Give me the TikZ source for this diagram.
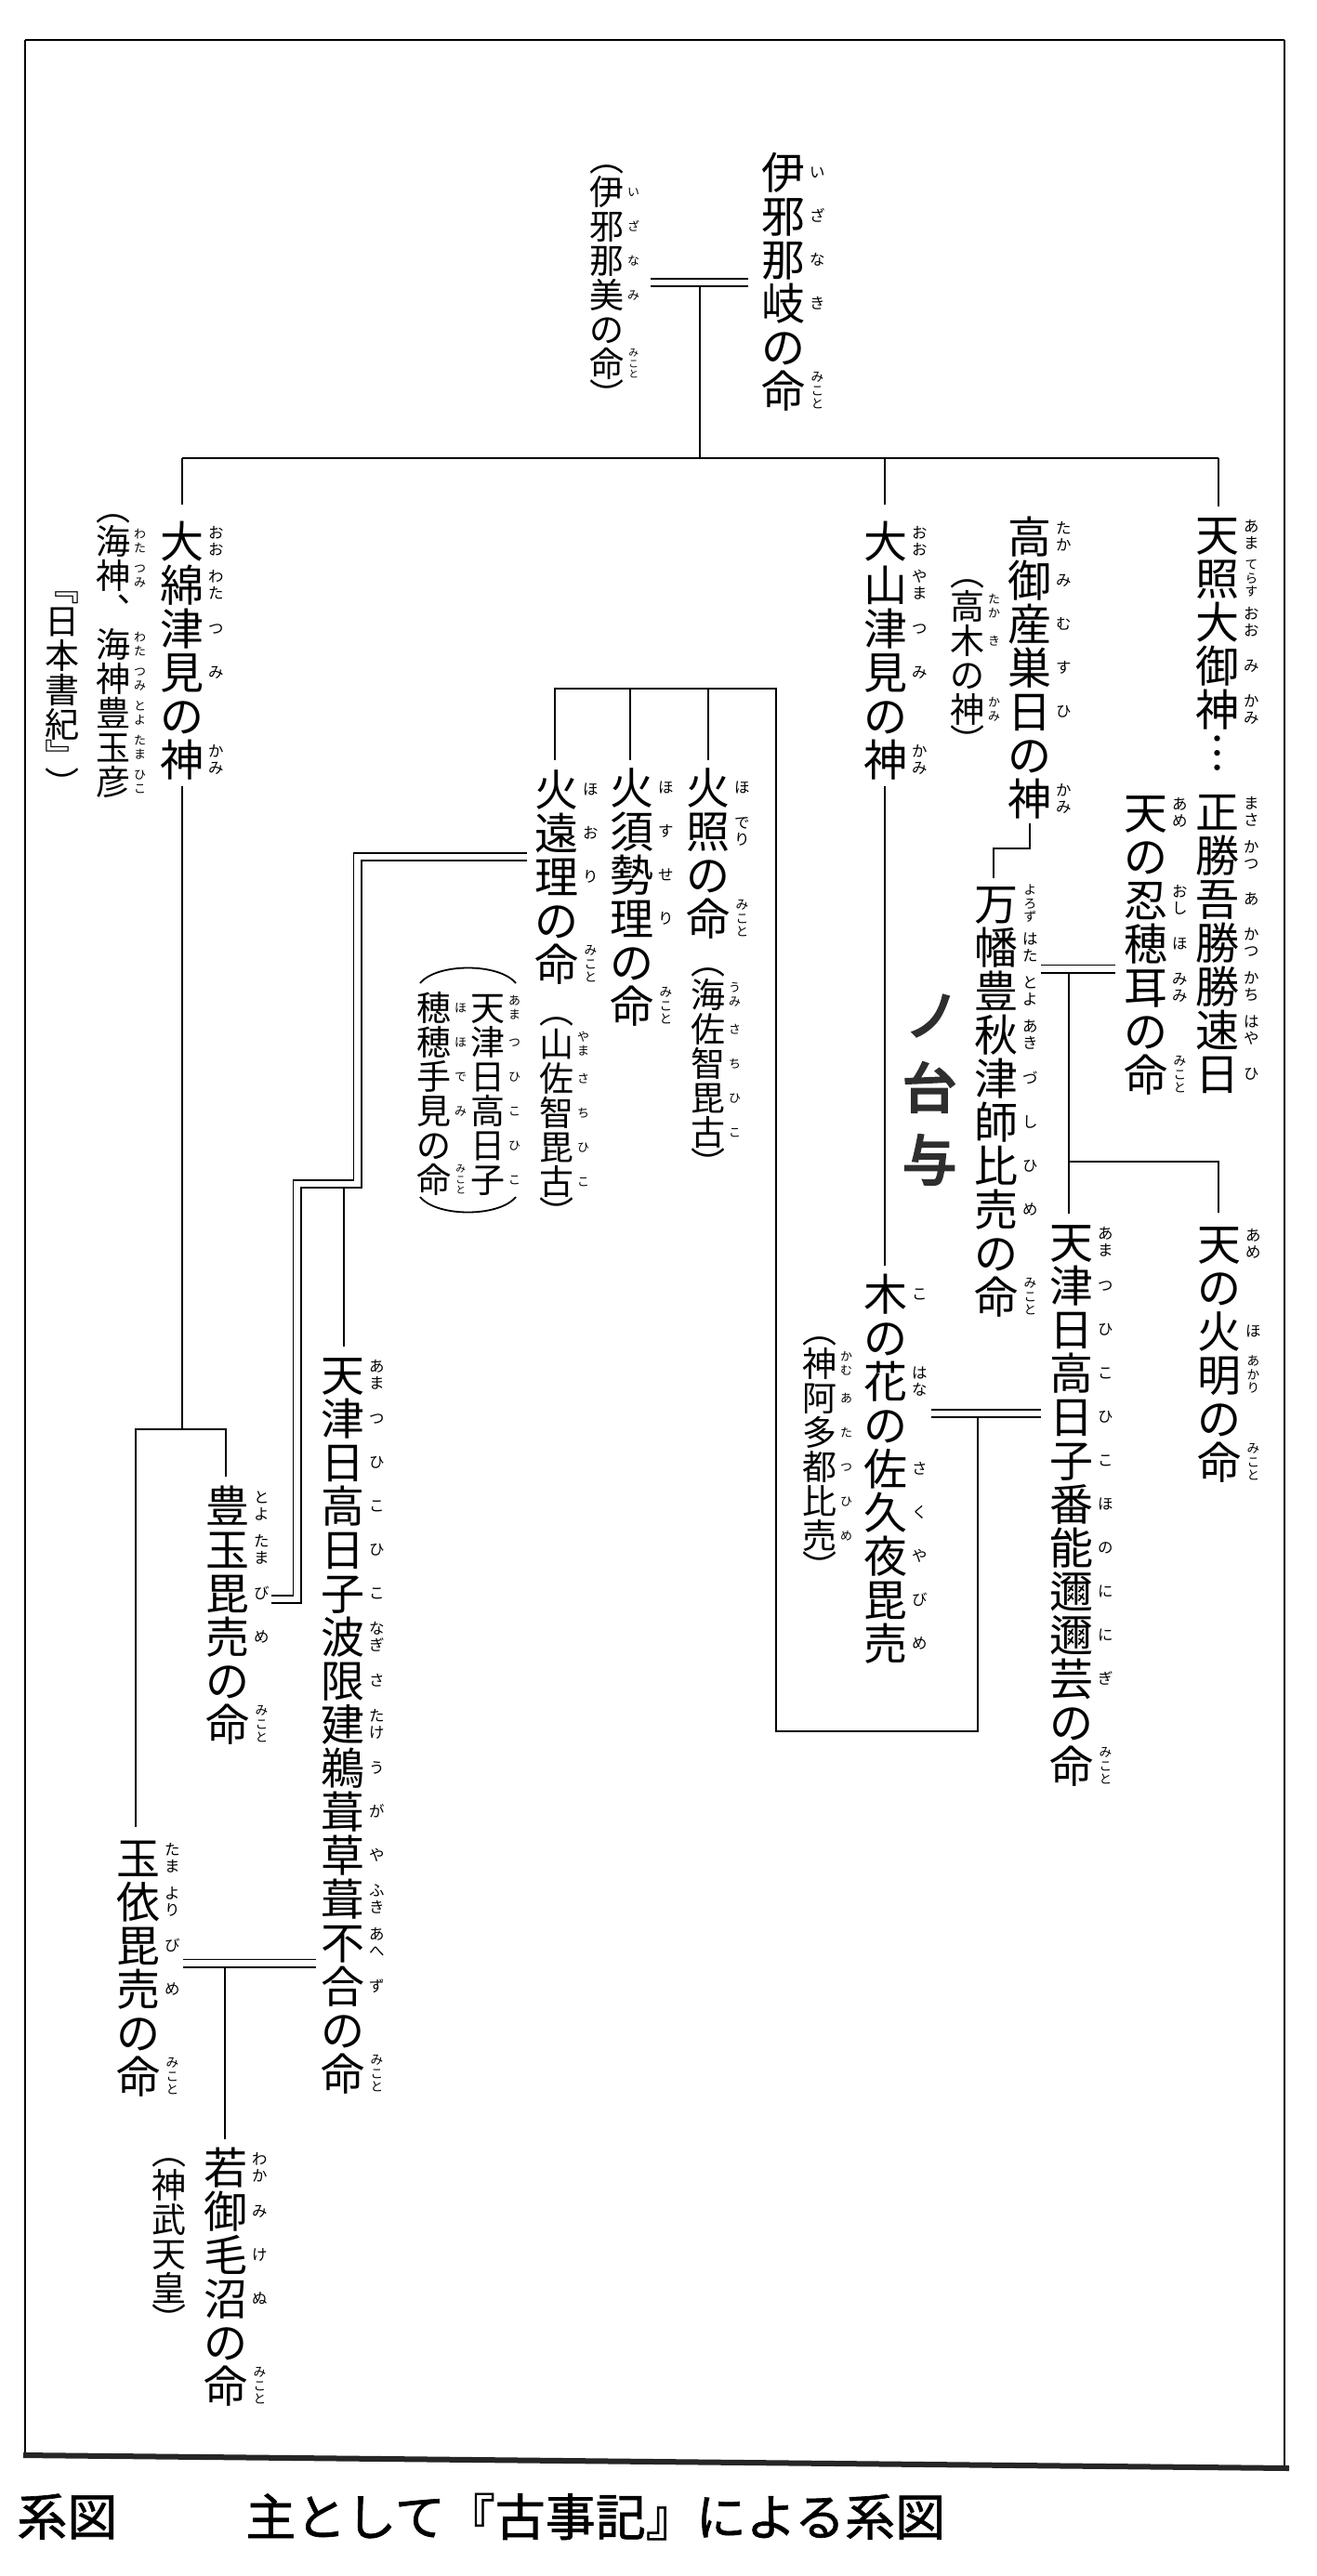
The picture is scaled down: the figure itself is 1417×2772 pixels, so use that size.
\documentclass[tikz,border=0pt]{standalone}
\usepackage{fontspec}
\newfontfamily\jp{Noto Sans CJK JP}
\newfontfamily\jpb{Noto Sans CJK JP}[FakeBold=1.2]
\newfontfamily\hwf{Noto Sans CJK JP}[FakeBold=4.5]
\newdimen\kz
\newdimen\rb
\def\rsepglue{\vskip 0pt plus .15fil minus 1fil}
\def\rloop#1{\ifx\relax#1\else\rsep\hbox to .4\kz{\hss\vrule height .83\rb depth .17\rb width 0pt\relax #1\hss}\expandafter\rloop\fi}
\newcommand\rubycol[1]{\vbox to\kz{\offinterlineskip\rf\vskip 0pt plus 1fil minus 1fil\def\rsep{\let\rsep\rsepglue}\rloop#1\relax\vskip 0pt plus 1fil minus 1fil}}
\newcommand\KRx[4]{\hbox{\rb=#2\kz\relax\def\rf{\fontsize{#1\kz}{#2\kz}\selectfont}\hbox to\kz{\hss\vrule height .88\kz depth .12\kz width 0pt\relax #3\hss}\kern .075\kz\hbox to .4\kz{\hss\lower .12\kz\rubycol{#4}\hss}}}
\newcommand\KR{\KRx{.35}{.385}}
\newcommand\KRt{\KRx{.29}{.3}}
\newcommand\HR[2]{\hbox{\hbox to\kz{\hss\vrule height .5\kz depth 0pt width 0pt\relax\raise #2\hbox{\smash{#1}}\hss}}}
\newcommand\PO{\HR{︵}{.1\kz}}
\newcommand\PC{\HR{︶}{-.3\kz}}
\newcommand\VC[1]{\vbox{\offinterlineskip#1}}
\newcommand\Msz{\kz=23.5pt\relax\jp\fontsize{23.5pt}{23.5pt}\selectfont}
\newcommand\Gsz{\kz=18.5pt\relax\jp\fontsize{18.5pt}{18.5pt}\selectfont}
\newcommand\capf{\jpb\fontsize{27pt}{27pt}\selectfont}
\tikzset{
  M/.style={anchor=north west,inner sep=0pt,outer sep=0pt,xshift=-11.75pt,font=\Msz},
  G/.style={anchor=north west,inner sep=0pt,outer sep=0pt,xshift=-9.25pt,font=\Gsz},
  ln/.style={line width=0.9pt},
  thk/.style={line width=1.3pt},
  dbl/.style={line width=0.9pt,double=white,double distance=3.2pt},
  hw/.style={inner sep=0pt,font=\hwf\fontsize{29pt}{29pt}\selectfont,text=black!82},
}
\begin{document}
\begin{tikzpicture}[x=0.5pt,y=-0.5pt]
\useasboundingbox (0,0) rectangle (1417,2772);
% frame
\coordinate (fTL) at (27,43); \coordinate (fTR) at (1382,43);
\coordinate (fBL) at (27,2643); \coordinate (fBR) at (1382,2655);
\coordinate (bL) at (25,2642); \coordinate (bR) at (1387,2656);
\draw[thk] (fTL) -- (fTR);
\draw[ln] (fTL) -- (fBL);
\draw[ln] (fTR) -- (fBR);
\draw[line width=3pt,black!85] (bL) -- (bR);

% ---------- nodes ----------
\node[M] (izanagi) at (843,162) {\VC{\KR{伊}{い}\KR{邪}{ざ}\KR{那}{な}\KR{岐}{き}\KR{の}{}\KRt{命}{みこと}}};
\node[G] (izanami) at (653,169.5) {\VC{\PO\KR{伊}{い}\KR{邪}{ざ}\KR{那}{な}\KR{美}{み}\KR{の}{}\KRt{命}{みこと}\PC}};

\node[M] (owata) at (196,559) {\VC{\KR{大}{おお}\KR{綿}{わた}\KR{津}{つ}\KR{見}{み}\KR{の}{}\KR{神}{かみ}}};
\node[G] (owagl) at (122,545.5) {\VC{\PO\KR{海}{わた}\KR{神}{つみ}\KR{︑}{}\KR{海}{わた}\KR{神}{つみ}\KR{豊}{とよ}\KR{玉}{たま}\KR{彦}{ひこ}}};
\node[G] (owagl2) at (67,631.5) {\VC{\HR{﹃}{.1\kz}\KR{日}{}\KR{本}{}\KR{書}{}\KR{紀}{}\HR{﹄}{-.3\kz}\PC}};

\node[M] (oyama) at (953,559) {\VC{\KR{大}{おお}\KR{山}{やま}\KR{津}{つ}\KR{見}{み}\KR{の}{}\KR{神}{かみ}}};
\node[M] (takami) at (1108,554) {\VC{\KR{高}{たか}\KR{御}{み}\KR{産}{む}\KR{巣}{す}\KR{日}{ひ}\KR{の}{}\KR{神}{かみ}}};
\node[G] (takagi) at (1041,615.5) {\VC{\PO\KR{高}{たか}\KR{木}{き}\KR{の}{}\KR{神}{かみ}\PC}};
\node[M] (amaA) at (1310,552) {\VC{\KR{天}{あま}\KRt{照}{てらす}\KR{大}{おお}\KR{御}{み}\KR{神}{かみ}\KR{︙}{}}};
\node[M] (amaB) at (1310,850) {\VC{\KR{正}{まさ}\KR{勝}{かつ}\KR{吾}{あ}\KR{勝}{かつ}\KR{勝}{かち}\KR{速}{はや}\KR{日}{ひ}}};
\node[M] (oshi) at (1233,851) {\VC{\KR{天}{あめ}\KR{の}{}\KR{忍}{おし}\KR{穂}{ほ}\KR{耳}{みみ}\KR{の}{}\KRt{命}{みこと}}};
\node[M] (yoro) at (1072,949) {\VC{\KRt{万}{よろず}\KR{幡}{はた}\KR{豊}{とよ}\KR{秋}{あき}\KR{津}{づ}\KR{師}{し}\KR{比}{ひ}\KR{売}{め}\KR{の}{}\KRt{命}{みこと}}};
\node[M] (kono) at (953,1369) {\VC{\KR{木}{こ}\KR{の}{}\KR{花}{はな}\KR{の}{}\KR{佐}{さ}\KR{久}{く}\KR{夜}{や}\KR{毘}{び}\KR{売}{め}}};
\node[G] (kamu) at (882,1430.5) {\VC{\PO\KR{神}{かむ}\KR{阿}{あ}\KR{多}{た}\KR{都}{つ}\KR{比}{ひ}\KR{売}{め}\PC}};
\node[M] (ninigi) at (1153,1313) {\VC{\KR{天}{あま}\KR{津}{つ}\KR{日}{ひ}\KR{高}{こ}\KR{日}{ひ}\KR{子}{こ}\KR{番}{ほ}\KR{能}{の}\KR{邇}{に}\KR{邇}{に}\KR{芸}{ぎ}\KR{の}{}\KRt{命}{みこと}}};
\node[M] (hoakari) at (1312,1315) {\VC{\KR{天}{あめ}\KR{の}{}\KR{火}{ほ}\KRt{明}{あかり}\KR{の}{}\KRt{命}{みこと}}};

\node[M] (hoderi) at (762,824) {\VC{\KR{火}{ほ}\KR{照}{でり}\KR{の}{}\KRt{命}{みこと}}};
\node[G] (hodgl) at (762,1033.5) {\VC{\PO\KR{海}{うみ}\KR{佐}{さ}\KR{智}{ち}\KR{毘}{ひ}\KR{古}{こ}\PC}};
\node[M] (hosu) at (680,824) {\VC{\KR{火}{ほ}\KR{須}{す}\KR{勢}{せ}\KR{理}{り}\KR{の}{}\KRt{命}{みこと}}};
\node[M] (hoori) at (599,826) {\VC{\KR{火}{ほ}\KR{遠}{お}\KR{理}{り}\KR{の}{}\KRt{命}{みこと}}};
\node[G] (hoogl) at (599,1086.5) {\VC{\PO\KR{山}{やま}\KR{佐}{さ}\KR{智}{ち}\KR{毘}{ひ}\KR{古}{こ}\PC}};
\node[G] (ama2) at (525,1066) {\VC{\KR{天}{あま}\KR{津}{つ}\KR{日}{ひ}\KR{高}{こ}\KR{日}{ひ}\KR{子}{こ}}};
\node[G] (hoho) at (467,1066) {\VC{\KR{穂}{ほ}\KR{穂}{ほ}\KR{手}{で}\KR{見}{み}\KR{の}{}\KRt{命}{みこと}}};

\node[M] (toyo) at (245,1597) {\VC{\KR{豊}{とよ}\KR{玉}{たま}\KR{毘}{び}\KR{売}{め}\KR{の}{}\KRt{命}{みこと}}};
\node[M] (ugaya) at (369,1456) {\VC{\KR{天}{あま}\KR{津}{つ}\KR{日}{ひ}\KR{高}{こ}\KR{日}{ひ}\KR{子}{こ}\KR{波}{なぎ}\KR{限}{さ}\KR{建}{たけ}\KR{鵜}{う}\KR{葺}{が}\KR{草}{や}\KR{葺}{ふき}\KR{不}{あへ}\KR{合}{ず}\KR{の}{}\KRt{命}{みこと}}};
\node[M] (tama) at (149,1976) {\VC{\KR{玉}{たま}\KR{依}{より}\KR{毘}{び}\KR{売}{め}\KR{の}{}\KRt{命}{みこと}}};
\node[M] (waka) at (243,2309) {\VC{\KR{若}{わか}\KR{御}{み}\KR{毛}{け}\KR{沼}{ぬ}\KR{の}{}\KRt{命}{みこと}}};
\node[G] (jimmu) at (182,2314.5) {\VC{\PO\KR{神}{}\KR{武}{}\KR{天}{}\KR{皇}{}\PC}};

% handwritten annotation
\node[hw] (hw1) at (1003,1093) {ノ};
\node[hw] (hw2) at (1000,1170) {台};
\node[hw] (hw3) at (1000,1248) {与};

% caption
\node[anchor=west,inner sep=0pt,font=\capf] (cap1) at (18,2708) {系図};
\node[anchor=west,inner sep=0pt,font=\capf] (cap2) at (264,2708) {主として『古事記』による系図};

% ---------- connectors ----------
\coordinate (izJ) at (753,304);
\coordinate (barL) at (196,493); \coordinate (barM) at (753,493);
\coordinate (barC) at (952,493); \coordinate (barR) at (1311,493);
\coordinate (owaT) at (196,543); \coordinate (owaB) at (196,846);
\coordinate (owaJ) at (196,1538);
\coordinate (tyL) at (146,1538); \coordinate (tyR) at (243,1538);
\coordinate (tamaT) at (146,1966); \coordinate (toyoT) at (243,1589);
\coordinate (oyaT) at (952,543); \coordinate (oyaB) at (952,846);
\coordinate (konoT) at (952,1362);
\coordinate (amaT) at (1311,545);
\coordinate (tkB) at (1108,886); \coordinate (tk1) at (1108,913);
\coordinate (tk2) at (1069,913); \coordinate (yoroT) at (1069,945);
\coordinate (osL) at (1120,1042.5); \coordinate (osR) at (1200,1042.5);
\coordinate (osJ) at (1150,1042.5); \coordinate (osK) at (1150,1250);
\coordinate (hoaK) at (1311,1250); \coordinate (hoaT) at (1311,1305);
\coordinate (niniT) at (1150,1306);
\coordinate (knL) at (1002,1521); \coordinate (knR) at (1120,1521);
\coordinate (knJ) at (1052,1521); \coordinate (knB) at (1052,1863);
\coordinate (hbB) at (835,1863); \coordinate (hbR) at (835,741);
\coordinate (hbL) at (597,741); \coordinate (hb2) at (678,741); \coordinate (hb3) at (762,741);
\coordinate (hooT) at (597,818); \coordinate (hosT) at (678,818); \coordinate (hodT) at (762,818);
\coordinate (dA) at (567,922); \coordinate (dB) at (384.5,922); \coordinate (dC) at (384.5,1274);
\coordinate (dD) at (319.5,1274); \coordinate (dE) at (319.5,1721); \coordinate (dF) at (292,1721);
\coordinate (ugJ) at (370,1274); \coordinate (ugT) at (370,1449);
\coordinate (tmL) at (197,2112.5); \coordinate (tmR) at (340,2112.5);
\coordinate (wkJ) at (242,2112.5); \coordinate (wkT) at (242,2302);
\coordinate (izL) at (700,304); \coordinate (izR) at (805,304);

\draw[ln] (izJ) -- (barM);
\draw[thk] (barL) -- (barR);
\draw[ln] (barL) -- (owaT);
\draw[ln] (owaB) -- (owaJ);
\draw[ln] (tamaT) -- (tyL) -- (tyR) -- (toyoT);
\draw[ln] (barC) -- (oyaT);
\draw[ln] (oyaB) -- (konoT);
\draw[ln] (barR) -- (amaT);
\draw[ln] (tkB) -- (tk1) -- (tk2) -- (yoroT);
\draw[ln] (osJ) -- (niniT);
\draw[ln] (osK) -- (hoaK) -- (hoaT);
\draw[ln] (knJ) -- (knB) -- (hbB) -- (hbR) -- (hbL) -- (hooT);
\draw[ln] (hb2) -- (hosT);
\draw[ln] (hb3) -- (hodT);
\draw[ln] (ugJ) -- (ugT);
\draw[ln] (wkJ) -- (wkT);
% double (marriage) lines
\draw[dbl] (izL) -- (izR);
\draw[dbl] (osL) -- (osR);
\draw[dbl] (knL) -- (knR);
\draw[dbl] (dA) -- (dB) -- (dC) -- (dD) -- (dE) -- (dF);
\draw[dbl] (tmL) -- (tmR);
% bracket arcs of the gloss
\coordinate (arL) at (452,1058); \coordinate (arR) at (555,1058);
\coordinate (abL) at (452,1288); \coordinate (abR) at (555,1288);
\draw[ln] (arL) .. controls (470,1036) and (537,1036) .. (arR);
\draw[ln] (abL) .. controls (470,1310) and (537,1310) .. (abR);
\end{tikzpicture}
\end{document}
